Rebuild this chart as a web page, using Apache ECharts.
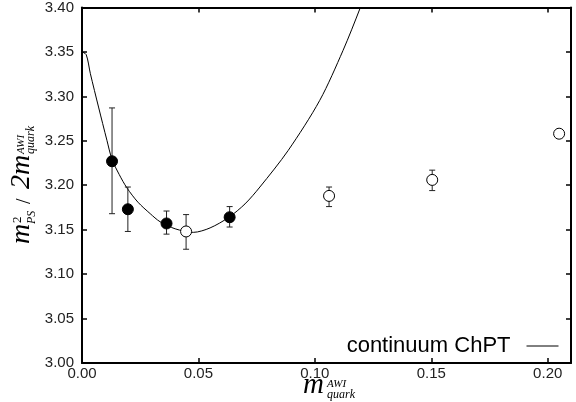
<!DOCTYPE html>
<html>
<head>
<meta charset="utf-8">
<script src="https://cdn.jsdelivr.net/npm/echarts@6/dist/echarts.min.js"></script>
<style>
  html, body { margin: 0; padding: 0; background: #fff; }
  #main { width: 576px; height: 402px; }
</style>
</head>
<body>
<div id="main"></div>
<script>
// filled circles (with error bars)
var filledX  = [0.0129, 0.0197, 0.0363, 0.0634];
var filledY  = [3.227, 3.173, 3.157, 3.164];
var filledLo = [3.168, 3.148, 3.145, 3.153];
var filledHi = [3.287, 3.198, 3.171, 3.176];

// open circles (with error bars)
var openX  = [0.0447, 0.1061, 0.1504, 0.2049];
var openY  = [3.148, 3.188, 3.206, 3.258];
var openLo = [3.128, 3.176, 3.194, 3.255];
var openHi = [3.167, 3.198, 3.217, 3.261];

// continuum ChPT curve
var curveX = [0.0, 0.0018, 0.0036, 0.0071, 0.0107, 0.0129, 0.0160, 0.0193, 0.0240, 0.0293, 0.0335, 0.0400, 0.0478, 0.0550, 0.0631, 0.0700, 0.0764, 0.0885, 0.1021, 0.1121, 0.1195, 0.1230];
var curveY = [3.350, 3.347, 3.3255, 3.288, 3.2506, 3.229, 3.212, 3.197, 3.181, 3.168, 3.159, 3.151, 3.147, 3.152, 3.164, 3.179, 3.198, 3.239, 3.2955, 3.3517, 3.3997, 3.425];

var xTicks = [0.00, 0.05, 0.10, 0.15, 0.20];
var yTicks = [3.00, 3.05, 3.10, 3.15, 3.20, 3.25, 3.30, 3.35, 3.40];

var myChart = echarts.init(document.getElementById('main'));

function zip(a, b) {
    var out = [];
    for (var i = 0; i < a.length; i++) out.push([a[i], b[i]]);
    return out;
}
function zip3(a, b, c) {
    var out = [];
    for (var i = 0; i < a.length; i++) out.push([a[i], b[i], c[i]]);
    return out;
}

// error bar drawn through the axes
function errorBar(params, api) {
    var lo = api.coord([api.value(0), api.value(1)]);
    var hi = api.coord([api.value(0), api.value(2)]);
    var w = 3;
    var st = { stroke: '#222', lineWidth: 1 };
    return {
        type: 'group',
        children: [
            { type: 'line', shape: { x1: lo[0], y1: lo[1], x2: hi[0], y2: hi[1] }, style: st },
            { type: 'line', shape: { x1: lo[0] - w, y1: lo[1], x2: lo[0] + w, y2: lo[1] }, style: st },
            { type: 'line', shape: { x1: hi[0] - w, y1: hi[1], x2: hi[0] + w, y2: hi[1] }, style: st }
        ]
    };
}

var axisLine = { show: true, onZero: false, lineStyle: { color: '#000', width: 2 } };
var axisTick = { show: true, inside: true, length: 5, lineStyle: { color: '#000', width: 1.5 } };
var labelFont = { fontFamily: 'Liberation Sans, Arial, sans-serif', fontSize: 15, color: '#222' };

var serif = 'Liberation Serif, Times New Roman, serif';
function t(x, y, text, size, italic) {
    return {
        type: 'text', x: x, y: y,
        style: { text: text, fontFamily: serif, fontSize: size, fontStyle: italic ? 'italic' : 'normal',
                 fill: '#000', verticalAlign: 'bottom', align: 'left' }
    };
}

option = {
    animation: false,
    grid: { left: 82, right: 5, top: 7, bottom: 39, containLabel: false },
    legend: {
        data: ['continuum ChPT'],
        right: 12, top: 330,
        align: 'right',
        itemWidth: 32, itemHeight: 10,
        itemStyle: { color: 'rgba(0,0,0,0)', borderColor: 'rgba(0,0,0,0)', borderWidth: 0 },
        lineStyle: { color: '#000', width: 1 },
        textStyle: { fontFamily: 'Liberation Sans, Arial, sans-serif', fontSize: 22, color: '#000', padding: [0, 11, 5, 0] },
        selectedMode: false
    },
    xAxis: [
        {
            type: 'value', min: 0, max: 0.21, interval: 0.05,
            axisLine: axisLine, axisTick: axisTick, splitLine: { show: false },
            axisLabel: Object.assign({ margin: 3, showMaxLabel: false, formatter: function (v) {
                return xTicks.indexOf(Math.round(v * 100) / 100) >= 0 ? v.toFixed(2) : ''; } }, labelFont)
        },
        {
            type: 'value', position: 'top', min: 0, max: 0.21, interval: 0.05,
            axisLine: axisLine, axisTick: axisTick, splitLine: { show: false }, axisLabel: { show: false }
        }
    ],
    yAxis: [
        {
            type: 'value', min: 3.0, max: 3.4, interval: 0.05,
            axisLine: axisLine, axisTick: axisTick, splitLine: { show: false },
            axisLabel: Object.assign({ margin: 8, formatter: function (v) {
                return yTicks.indexOf(Math.round(v * 100) / 100) >= 0 ? v.toFixed(2) : ''; } }, labelFont)
        },
        {
            type: 'value', position: 'right', min: 3.0, max: 3.4, interval: 0.05,
            axisLine: axisLine, axisTick: axisTick, splitLine: { show: false }, axisLabel: { show: false }
        }
    ],
    graphic: [
        // x axis title: m^AWI_quark
        {
            type: 'group', x: 303, y: 400,
            children: [
                t(0, 0, 'm', 29, true),
                t(24, -10, 'AWI', 11, true),
                t(24, 1, 'quark', 12, true)
            ]
        },
        // y axis title: m^2_PS / 2 m^AWI_quark (rotated)
        {
            type: 'group', x: 36, y: 244, rotation: Math.PI / 2,
            children: [
                t(0, 0, 'm', 28, true),
                t(21, -12, '2', 13, false),
                t(20, 2, 'PS', 12, true),
                t(40, -1, '/', 20, false),
                t(55, 0, '2m', 28, true),
                t(90, -9, 'AWI', 11, true),
                t(90, 1, 'quark', 12, true)
            ]
        }
    ],
    series: [
        {
            name: 'continuum ChPT', type: 'line', data: zip(curveX, curveY),
            symbol: 'none', smooth: 0.3, clip: true,
            lineStyle: { color: '#000', width: 1 }, z: 2
        },
        {
            name: 'err filled', type: 'custom', renderItem: errorBar,
            data: zip3(filledX, filledLo, filledHi), encode: { x: 0, y: [1, 2] }, z: 3
        },
        {
            name: 'err open', type: 'custom', renderItem: errorBar,
            data: zip3(openX, openLo, openHi), encode: { x: 0, y: [1, 2] }, z: 3
        },
        {
            name: 'filled', type: 'scatter', data: zip(filledX, filledY),
            symbol: 'circle', symbolSize: 11,
            itemStyle: { color: '#000', borderColor: '#000', borderWidth: 1, opacity: 1 }, z: 4
        },
        {
            name: 'open', type: 'scatter', data: zip(openX, openY),
            symbol: 'circle', symbolSize: 11,
            itemStyle: { color: '#fff', borderColor: '#000', borderWidth: 1, opacity: 1 }, z: 4
        }
    ]
};

myChart.setOption(option);
</script>
</body>
</html>
